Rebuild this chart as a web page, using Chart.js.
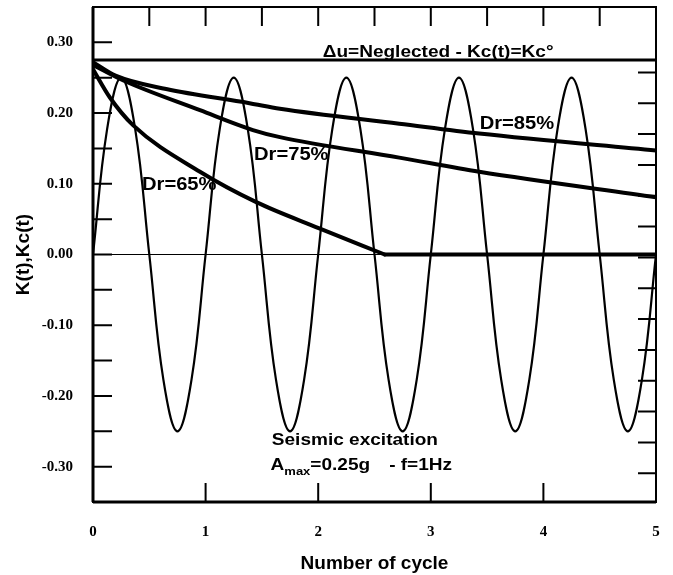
<!DOCTYPE html>
<html>
<head>
<meta charset="utf-8">
<script src="https://cdn.jsdelivr.net/npm/chart.js@4.4.1/dist/chart.umd.min.js"></script>
<style>
  html, body { margin: 0; padding: 0; background: #fff; }
  canvas { display: block; }
</style>
</head>
<body>
<canvas id="myChart" width="673" height="575"></canvas>
<script>
// tick values
var xTicks = [0, 1, 2, 3, 4, 5];
var yTicks = [-0.30, -0.20, -0.10, 0.00, 0.10, 0.20, 0.30];

// seismic excitation, read every 1/8 cycle
var sineX = [0, 0.125, 0.25, 0.375, 0.5, 0.625, 0.75, 0.875,
             1, 1.125, 1.25, 1.375, 1.5, 1.625, 1.75, 1.875,
             2, 2.125, 2.25, 2.375, 2.5, 2.625, 2.75, 2.875,
             3, 3.125, 3.25, 3.375, 3.5, 3.625, 3.75, 3.875,
             4, 4.125, 4.25, 4.375, 4.5, 4.625, 4.75, 4.875, 5];
var sineY = [0, 0.177, 0.25, 0.177, 0, -0.177, -0.25, -0.177,
             0, 0.177, 0.25, 0.177, 0, -0.177, -0.25, -0.177,
             0, 0.177, 0.25, 0.177, 0, -0.177, -0.25, -0.177,
             0, 0.177, 0.25, 0.177, 0, -0.177, -0.25, -0.177,
             0, 0.177, 0.25, 0.177, 0, -0.177, -0.25, -0.177, 0];

// Kc(t) curves
var dr85X = [0, 0.2, 0.65, 1.39, 1.66, 2.72, 3.43, 5];
var dr85Y = [0.272, 0.253, 0.234, 0.214, 0.206, 0.185, 0.171, 0.147];
var dr75X = [0, 0.27, 0.95, 1.42, 1.66, 2.72, 3.43, 5];
var dr75Y = [0.268, 0.246, 0.204, 0.176, 0.166, 0.137, 0.117, 0.081];
var dr65X = [0, 0.15, 0.355, 0.95, 1.45, 2.01, 2.59];
var dr65Y = [0.262, 0.222, 0.183, 0.117, 0.074, 0.037, 0];
// Dr=65% once Kc(t) has dropped to zero
var dr65RestX = [2.59, 5];
var dr65RestY = [0, 0];

// Δu neglected: Kc(t) = Kc°
var kc0X = [0, 5];
var kc0Y = [0.275, 0.275];
var zeroX = [0, 5];
var zeroY = [0, 0];

function pts(xs, ys) {
    return xs.map(function(x, i) { return { x: x, y: ys[i] }; });
}

function line(xs, ys, width, smooth) {
    var ds = {
        data: pts(xs, ys),
        showLine: true,
        borderColor: '#000',
        backgroundColor: '#000',
        borderWidth: width,
        borderCapStyle: 'round',
        borderJoinStyle: 'round',
        pointRadius: 0,
        fill: false
    };
    if (smooth === 'monotone') {
        ds.cubicInterpolationMode = 'monotone';
    } else {
        ds.tension = smooth;
    }
    return ds;
}

// text is a bit wider than Arial in the original scan
function stretchText(ctx, text, x, y, k) {
    ctx.save();
    ctx.translate(x, y);
    ctx.scale(k, 1);
    ctx.fillText(text, 0, 0);
    ctx.restore();
    return ctx.measureText(text).width * k;
}

var framePlugin = {
    id: 'frame',
    afterDatasetsDraw: function(chart) {
        var ctx = chart.ctx;
        var a = chart.chartArea;
        var xs = chart.scales.x, ys = chart.scales.y;
        var L = 19, i, p;
        ctx.save();
        ctx.strokeStyle = '#000';
        ctx.fillStyle = '#000';

        // box
        ctx.lineWidth = 2;
        ctx.strokeRect(a.left, a.top, a.right - a.left, a.bottom - a.top);
        ctx.lineWidth = 3;
        ctx.beginPath();
        ctx.moveTo(a.left, a.bottom);
        ctx.lineTo(a.right, a.bottom);
        ctx.moveTo(a.left, a.top);
        ctx.lineTo(a.left, a.bottom);
        ctx.stroke();

        // inner ticks
        ctx.lineWidth = 2;
        ctx.beginPath();
        for (i = -6; i <= 6; i++) {
            p = ys.getPixelForValue(i * 0.05);
            ctx.moveTo(a.left, p);
            ctx.lineTo(a.left + L, p);
        }
        for (i = 1; i <= 9; i++) {
            p = xs.getPixelForValue(i * 0.5);
            ctx.moveTo(p, a.top);
            ctx.lineTo(p, a.top + L);
        }
        for (i = 1; i <= 4; i++) {
            p = xs.getPixelForValue(i);
            ctx.moveTo(p, a.bottom);
            ctx.lineTo(p, a.bottom - L);
        }
        for (i = 0; i <= 13; i++) {
            p = ys.getPixelForValue(0.2575 - i * 0.0436);
            ctx.moveTo(a.right, p);
            ctx.lineTo(a.right - 18, p);
        }
        ctx.stroke();

        // annotations
        ctx.textBaseline = 'alphabetic';
        ctx.textAlign = 'left';
        var k = 1.12;
        ctx.font = 'bold 17px "Liberation Sans", Arial, sans-serif';
        stretchText(ctx, '\u0394u=Neglected - Kc(t)=Kc\u00b0', xs.getPixelForValue(2.04), ys.getPixelForValue(0.279), k);
        ctx.font = 'bold 18px "Liberation Sans", Arial, sans-serif';
        stretchText(ctx, 'Dr=85%', xs.getPixelForValue(3.434), ys.getPixelForValue(0.178), k);
        stretchText(ctx, 'Dr=75%', xs.getPixelForValue(1.43), ys.getPixelForValue(0.133), k);
        stretchText(ctx, 'Dr=65%', xs.getPixelForValue(0.435), ys.getPixelForValue(0.0908), k);

        ctx.font = 'bold 17px "Liberation Sans", Arial, sans-serif';
        stretchText(ctx, 'Seismic excitation', xs.getPixelForValue(1.588), ys.getPixelForValue(-0.269), k);
        var bx = xs.getPixelForValue(1.577), by = ys.getPixelForValue(-0.3047);
        bx += stretchText(ctx, 'A', bx, by, k);
        ctx.font = 'bold 10px "Liberation Sans", Arial, sans-serif';
        bx += stretchText(ctx, 'max', bx, by + 5, 1.3);
        ctx.font = 'bold 17px "Liberation Sans", Arial, sans-serif';
        bx += stretchText(ctx, '=0.25g', bx, by, k);
        stretchText(ctx, '- f=1Hz', bx + 19, by, k);
        ctx.restore();
    }
};

// drop the extra padding chart.js puts round tick labels
function noPad(scale) {
    scale.paddingTop = 0;
    scale.paddingBottom = 0;
    scale.paddingLeft = 0;
    scale.paddingRight = 0;
}

var ctx = document.getElementById('myChart').getContext('2d');
var myChart = new Chart(ctx, {
    type: 'scatter',
    data: {
        datasets: [
            line(sineX, sineY, 2.2, 0.4),
            line(zeroX, zeroY, 1, 0),
            line(kc0X, kc0Y, 3, 0),
            line(dr85X, dr85Y, 4, 'monotone'),
            line(dr75X, dr75Y, 4, 'monotone'),
            line(dr65X, dr65Y, 4, 'monotone'),
            line(dr65RestX, dr65RestY, 4, 0)
        ]
    },
    options: {
        responsive: false,
        animation: false,
        devicePixelRatio: 1,
        layout: { padding: { top: 7, right: 17, left: 0, bottom: 0 } },
        plugins: {
            legend: { display: false },
            tooltip: { enabled: false }
        },
        scales: {
            x: {
                type: 'linear',
                min: 0,
                max: 5,
                afterBuildTicks: function(scale) {
                    scale.ticks = xTicks.map(function(v) { return { value: v }; });
                },
                afterFit: function(scale) { scale.height = 73; noPad(scale); },
                grid: { display: false, drawTicks: false },
                border: { display: false },
                ticks: {
                    padding: 21,
                    color: '#000',
                    maxRotation: 0,
                    font: { family: '"Liberation Serif", serif', size: 15, weight: 'bold' }
                },
                title: {
                    display: true,
                    text: 'Number of cycle',
                    color: '#000',
                    padding: { top: 4, bottom: 0 },
                    font: { family: '"Liberation Sans", Arial, sans-serif', size: 19, weight: 'bold' }
                }
            },
            y: {
                type: 'linear',
                min: -0.35,
                max: 0.35,
                afterBuildTicks: function(scale) {
                    scale.ticks = yTicks.map(function(v) { return { value: v }; });
                },
                afterFit: function(scale) { scale.width = 93; noPad(scale); },
                grid: { display: false, drawTicks: false },
                border: { display: false },
                ticks: {
                    padding: 20,
                    color: '#000',
                    font: { family: '"Liberation Serif", serif', size: 15, weight: 'bold' },
                    callback: function(v) { return v.toFixed(2); }
                },
                title: {
                    display: true,
                    text: 'K(t),Kc(t)',
                    color: '#000',
                    padding: { top: 12, bottom: 0 },
                    font: { family: '"Liberation Sans", Arial, sans-serif', size: 19, weight: 'bold' }
                }
            }
        }
    },
    plugins: [framePlugin]
});
</script>
</body>
</html>
